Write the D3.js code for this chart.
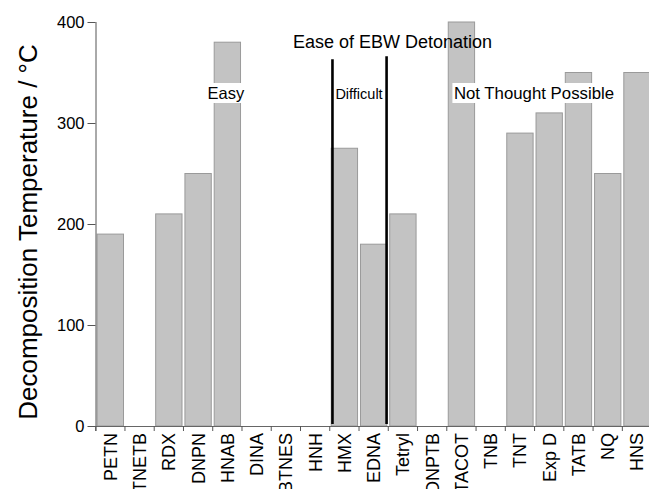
<!DOCTYPE html>
<html>
<head>
<meta charset="utf-8">
<script src="https://cdn.jsdelivr.net/npm/d3@7"></script>
<style>
  html, body { margin: 0; padding: 0; background: #fff; }
  svg { display: block; font-family: "Liberation Sans", Arial, Helvetica, sans-serif; }
</style>
</head>
<body>
<svg id="chart" width="649" height="489"></svg>
<script>
// Explosives and their decomposition temperatures (°C)
const explosives = ["PETN", "TNETB", "RDX", "DNPN", "HNAB", "DINA", "BTNES", "HNH", "HMX", "EDNA",
                    "Tetryl", "DNPTB", "TACOT", "TNB", "TNT", "Exp D", "TATB", "NQ", "HNS"];
const decompTemp = [190, 0, 210, 250, 380, 0, 0, 0, 275, 180,
                    210, 0, 400, 0, 290, 310, 350, 250, 350];
const yTicks = [0, 100, 200, 300, 400];

// Vertical dividers separating EBW ease groups (top given in °C units)
const dividers = [
  { category: "HMX", top: 363 },
  { category: "Tetryl", top: 366 }
];

// Group annotations
const groupLabels = ["Easy", "Difficult", "Not Thought Possible"];
const title = "Ease of EBW Detonation";

const svg = d3.select("#chart");

const x = d3.scaleBand()
  .domain(explosives)
  .range([95.7, 651.6])
  .paddingInner(0.1)
  .paddingOuter(0.05);

const y = d3.scaleLinear().domain([0, 400]).range([426, 22]);

const edgeOf = c => x(c) - x.step() * x.paddingInner() / 2;

// Bars
svg.append("g")
  .selectAll("rect")
  .data(explosives)
  .join("rect")
  .attr("x", d => x(d))
  .attr("width", x.bandwidth())
  .attr("y", (d, i) => y(decompTemp[i]))
  .attr("height", (d, i) => y(0) - y(decompTemp[i]))
  .attr("fill", "#c3c3c3")
  .attr("stroke", "#9a9a9a")
  .attr("stroke-width", 1);

// X axis: labels at band centres, ticks at band boundaries
const xAxis = svg.append("g")
  .attr("transform", `translate(0,${y(0)})`)
  .call(d3.axisBottom(x).tickSize(0));
xAxis.select(".domain").attr("stroke", "#666").attr("d", `M${edgeOf(explosives[0])},0.5H${edgeOf(explosives[explosives.length-1]) + x.step()}`);
xAxis.selectAll(".tick text")
  .attr("font-size", 18)
  .attr("fill", "#000")
  .attr("text-anchor", "end")
  .attr("transform", "rotate(-90)")
  .attr("x", -7)
  .attr("y", 0)
  .attr("dy", "0.36em");
svg.append("g")
  .selectAll("line")
  .data(explosives.concat(["__end"]))
  .join("line")
  .attr("x1", (d, i) => edgeOf(explosives[0]) + i * x.step())
  .attr("x2", (d, i) => edgeOf(explosives[0]) + i * x.step())
  .attr("y1", y(0))
  .attr("y2", y(0) + 5)
  .attr("stroke", "#555")
  .attr("stroke-width", 1);

// Y axis
const yAxis = svg.append("g")
  .attr("transform", "translate(95.5,0)")
  .call(d3.axisLeft(y).tickValues(yTicks).tickSize(8).tickSizeOuter(0).tickPadding(3));
yAxis.select(".domain").attr("stroke", "#555").attr("d", `M0.5,${y(400)}V${y(0) + 5}`);
yAxis.selectAll(".tick line").attr("stroke", "#555");
yAxis.selectAll(".tick text").attr("font-size", 16.5).attr("fill", "#000");

// Y axis title
svg.append("text")
  .attr("transform", `translate(37,${(y(0) + y(400)) / 2 + 8}) rotate(-90)`)
  .attr("text-anchor", "middle")
  .attr("font-size", 26)
  .attr("fill", "#000")
  .text("Decomposition Temperature / °C");

// Group label boxes and text
const labelSizes = [16.5, 14.5, 16.8];
const labelCenters = [
  x("HNAB") + x.bandwidth() / 2 - 1.5,
  (edgeOf("HMX") + edgeOf("Tetryl")) / 2,
  x("TATB") - x.step() * 1.07
];
const lg = svg.append("g");
groupLabels.forEach((t, i) => {
  const g = lg.append("g");
  const txt = g.append("text")
    .attr("x", labelCenters[i])
    .attr("y", 99)
    .attr("text-anchor", "middle")
    .attr("font-size", labelSizes[i])
    .attr("fill", "#000")
    .text(t);
  const bb = txt.node().getBBox();
  g.insert("rect", "text")
    .attr("x", bb.x - 1.5)
    .attr("y", 83)
    .attr("width", bb.width + 3)
    .attr("height", 20)
    .attr("fill", "#fff");
});

// Dividers
svg.append("g")
  .selectAll("line")
  .data(dividers)
  .join("line")
  .attr("x1", (d, i) => edgeOf(d.category) + (i === 0 ? 2.7 : -1.7))
  .attr("x2", (d, i) => edgeOf(d.category) + (i === 0 ? 2.7 : -1.7))
  .attr("y1", d => y(d.top))
  .attr("y2", y(0) - 2)
  .attr("stroke", "#000")
  .attr("stroke-width", 2.6);

// Title
svg.append("text")
  .attr("x", 392.5)
  .attr("y", 48)
  .attr("text-anchor", "middle")
  .attr("font-size", 18)
  .attr("fill", "#000")
  .text(title);
</script>
</body>
</html>
